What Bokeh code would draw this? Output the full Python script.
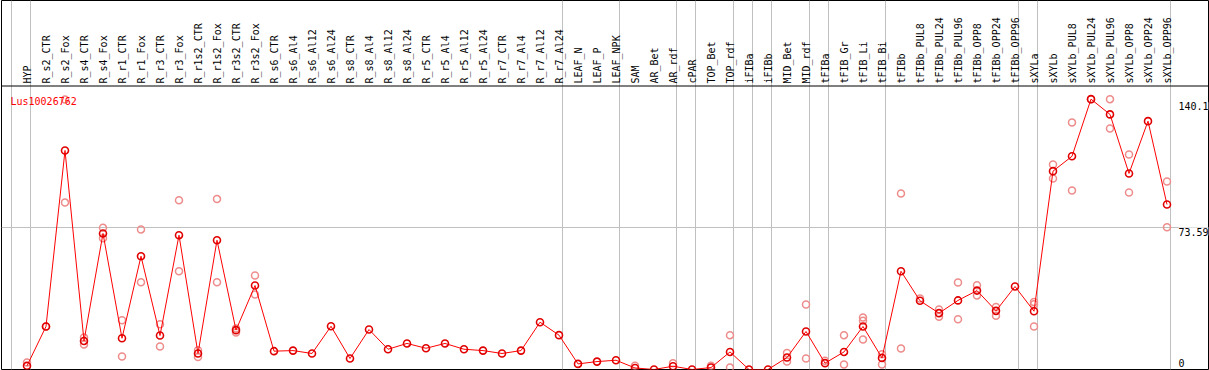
import numpy as np
from bokeh.plotting import figure
from bokeh.models import FixedTicker, Range1d, ColumnDataSource, Label, Span
from bokeh.core.properties import value
from bokeh.embed import file_html
from bokeh.resources import INLINE

gene = "Lus10026762"

samples = [
    "HYP", "R_s2_CTR", "R_s2_Fox", "R_s4_CTR", "R_s4_Fox", "R_r1_CTR", "R_r1_Fox",
    "R_r3_CTR", "R_r3_Fox", "R_r1s2_CTR", "R_r1s2_Fox", "R_r3s2_CTR", "R_r3s2_Fox",
    "R_s6_CTR", "R_s6_Al4", "R_s6_Al12", "R_s6_Al24", "R_s8_CTR", "R_s8_Al4",
    "R_s8_Al12", "R_s8_Al24", "R_r5_CTR", "R_r5_Al4", "R_r5_Al12", "R_r5_Al24",
    "R_r7_CTR", "R_r7_Al4", "R_r7_Al12", "R_r7_Al24", "LEAF_N", "LEAF_P", "LEAF_NPK",
    "SAM", "AR_Bet", "AR_rdf", "cPAR", "TOP_Bet", "TOP_rdf", "iFIBa", "iFIBb",
    "MID_Bet", "MID_rdf", "tFIBa", "tFIB_Gr", "tFIB_Li", "tFIB_Bi", "tFIBb",
    "tFIBb_PUL8", "tFIBb_PUL24", "tFIBb_PUL96", "tFIBb_OPP8", "tFIBb_OPP24",
    "tFIBb_OPP96", "sXYLa", "sXYLb", "sXYLb_PUL8", "sXYLb_PUL24", "sXYLb_PUL96",
    "sXYLb_OPP8", "sXYLb_OPP24", "sXYLb_OPP96",
]

means = [
    1.9, 22.3, 113.5, 14.8, 70.5, 16.2, 58.7, 17.6, 69.6, 8.3, 67.0, 20.4, 43.5,
    9.5, 9.8, 8.3, 22.4, 5.7, 20.7, 10.5, 13.5, 11.0, 13.5, 10.5, 9.8,
    8.3, 9.8, 24.5, 17.8, 2.9, 4.1, 4.8,
    0.8, 0.0, 1.7, 0.0, 1.0, 9.1, 0.0, 0.0, 6.2, 19.7, 3.3, 9.1, 22.3, 6.0, 50.9,
    35.6, 29.2, 35.8, 40.9, 30.4, 43.0, 30.2, 102.8, 110.5, 140.1, 132.2,
    101.6, 128.7, 85.5,
]

# replicate measurements (sample index, value)
rep_idx = [0, 1, 2, 2, 3, 3, 4, 4, 5, 5, 6, 6, 7, 7, 8, 8, 9, 9, 10, 10, 11, 11, 12, 12,
           32, 34, 36, 37, 37, 40, 40, 41, 41, 42, 43, 43, 44, 44, 44, 45, 45, 46, 46,
           47, 48, 48, 49, 49, 50, 50, 51, 51, 53, 53, 53, 54, 54, 55, 55, 56, 57, 57,
           58, 58, 60, 60]
rep_val = [3.6, 22.3, 86.5, 139.9, 16.6, 13.0, 73.4, 68.0, 25.5, 6.7, 72.6, 45.2,
           23.5, 11.9, 87.7, 50.9, 10.0, 6.5, 88.3, 45.2, 21.2, 19.2, 48.7, 38.9,
           1.9, 3.3, 1.9, 17.8, 1.0, 8.6, 4.1, 33.7, 5.7, 4.5, 17.8, 2.6, 26.9, 25.2,
           15.5, 7.9, 2.6, 91.2, 10.9, 36.8, 31.1, 27.3, 45.1, 26.1, 43.7, 38.4,
           32.4, 27.8, 35.0, 33.8, 22.3, 106.2, 99.0, 128.0, 92.8, 140.1, 140.1,
           124.9, 111.4, 91.7, 97.4, 73.7]

# last sample index of each group (separators drawn just after them)
group_ends = [-1, 0, 28, 31, 34, 35, 37, 38, 39, 41, 42, 45, 52, 53, 60]

y_ticks = [140.1, 73.59, 0]
y_tick_labels = ["140.1", "73.59", "0"]

# ---- layout / style ----
W, H = 1209, 370
FRAME_W, FRAME_H = 1207, 369
COL_PX = 19.0                      # pixels per sample column
FIRST_COL_PX = 25.5                # first column centre, from frame left
Y_PX = 1.9296                      # pixels per expression unit
HEADER_PX = 284                    # height of the data band (below the label band)
x_start = -FIRST_COL_PX / COL_PX
x_end = x_start + FRAME_W / COL_PX
y_end = FRAME_H / Y_PX
y_header = (HEADER_PX - 0.5) / Y_PX     # line separating labels from data
y_labels = (HEADER_PX + 2) / Y_PX       # foot of the rotated sample labels
MONO = "DejaVu Sans Mono"
GRID = "#c0c0c0"

xs = list(range(len(samples)))
seps = [g + 0.21 for g in group_ends]

p = figure(width=W, height=H, output_backend="svg", toolbar_location=None,
           x_range=Range1d(x_start, x_end), y_range=Range1d(0, y_end),
           x_axis_location=None, y_axis_location=None,
           min_border_left=1, min_border_right=1, min_border_top=0, min_border_bottom=1)
p.outline_line_color = "black"
p.outline_line_width = 1
p.background_fill_color = "white"
p.border_fill_color = "white"

p.xgrid.ticker = FixedTicker(ticks=seps)
p.xgrid.grid_line_color = GRID
p.ygrid.ticker = FixedTicker(ticks=[y_ticks[1]])
p.ygrid.grid_line_color = GRID

p.add_layout(Span(location=y_header, dimension="width", line_color="black", line_width=1))

# sample labels (rotated, reading upwards)
lab_src = ColumnDataSource(dict(x=xs, y=[y_labels] * len(xs), text=samples))
p.text(x="x", y="y", text="text", source=lab_src, angle=np.pi / 2,
       text_align="left", text_baseline="middle", text_font=value(MONO),
       text_font_size="10px", text_color="black")

p.scatter(rep_idx, rep_val, marker="circle", size=7, line_color="#ee8c8c",
          fill_color=None, line_width=1.5)
p.line(xs, means, line_color="#ff0000", line_width=1)
p.scatter(xs, means, marker="circle", size=7, line_color="#e00000",
          fill_color=None, line_width=1.6)

src = ColumnDataSource(dict(x=[len(samples) - 1] * len(y_ticks), y=y_ticks,
                            text=y_tick_labels, dy=[3, 0, -11]))
p.text(x="x", y="y", text="text", source=src, x_offset=11.5, y_offset="dy",
       text_baseline="top", text_align="left", text_font=value(MONO),
       text_font_size="10px", text_color="black", background_fill_color="white")

p.add_layout(Label(x=x_start, y=y_header, x_offset=9, y_offset=-15, text=gene,
                   text_baseline="alphabetic", text_color="#ff0000", text_font=MONO,
                   text_font_size="10px"))

open("out.html", "w").write(file_html(p, INLINE))
